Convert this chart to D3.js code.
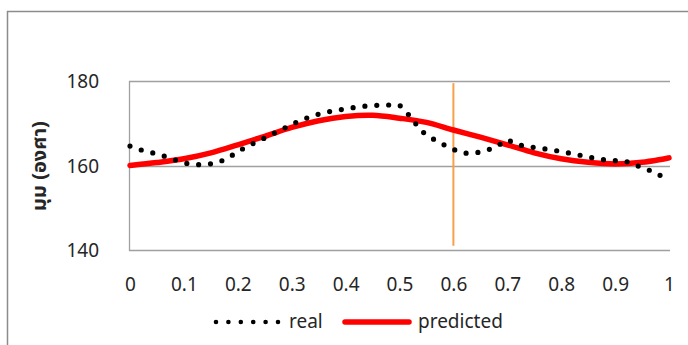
<!DOCTYPE html>
<html>
<head>
<meta charset="utf-8">
<script src="https://cdn.jsdelivr.net/npm/d3@7"></script>
<style>
  html, body { margin: 0; padding: 0; background: #fff; }
  svg { display: block; }
  text { font-family: "Noto Sans", "Noto Sans Thai", "Tahoma", "DejaVu Sans", sans-serif; fill: #262626; }
</style>
</head>
<body>
<div id="chart"></div>
<script>
// Measured joint angle (real) and model output (predicted) over normalised time
const realX = [0, 0.02, 0.04, 0.06, 0.08, 0.10, 0.12, 0.14, 0.16, 0.18, 0.20, 0.22, 0.24, 0.26, 0.28, 0.30,
  0.32, 0.34, 0.36, 0.38, 0.40, 0.42, 0.44, 0.46, 0.48, 0.50, 0.52, 0.54, 0.56, 0.58, 0.60, 0.62, 0.64,
  0.66, 0.68, 0.70, 0.72, 0.74, 0.76, 0.78, 0.80, 0.82, 0.84, 0.86, 0.88, 0.90, 0.92, 0.94, 0.96, 0.98, 1.00];
const realY = [164.6, 163.7, 163.05, 162.35, 161.5, 160.6, 160.2, 160.2, 160.6, 161.6, 163.3, 164.7, 165.85,
  167.2, 168.4, 169.75, 170.85, 171.8, 172.5, 173.0, 173.4, 173.8, 174.1, 174.25, 174.32, 174.3, 171.6,
  168.2, 166.45, 165.05, 163.8, 162.9, 162.95, 163.5, 164.5, 166.1, 164.9, 164.45, 164.1, 163.75, 163.3,
  162.8, 162.3, 161.75, 161.35, 161.14, 161.0, 160.0, 159.1, 157.8, 157.0];

const predX = [0, 0.05, 0.10, 0.15, 0.20, 0.25, 0.30, 0.35, 0.40, 0.45, 0.50, 0.55, 0.60, 0.65, 0.70,
  0.75, 0.80, 0.85, 0.90, 0.95, 1.00];
const predY = [160.0, 160.7, 161.6, 163.0, 164.9, 166.9, 169.0, 170.6, 171.6, 171.9, 171.2, 170.2, 168.4,
  166.7, 164.9, 163.0, 161.6, 160.75, 160.35, 160.75, 161.8];

// Vertical marker at t = 0.6
const markerX = [0.6, 0.6];
const markerY = [141, 179.5];

const xTicks = [0, 0.1, 0.2, 0.3, 0.4, 0.5, 0.6, 0.7, 0.8, 0.9, 1];
const yTicks = [140, 160, 180];
const yTitle = "มุม (องศา)";
const seriesNames = ["real", "predicted"];

const W = 688, H = 345;
const plot = { left: 129, right: 670, top: 81, bottom: 250 };

const svg = d3.select("#chart").append("svg").attr("width", W).attr("height", H);

// Outer chart frame (top and left edges visible)
svg.append("path")
  .attr("d", `M7.5,${H} L7.5,11.5 L${W},11.5`)
  .attr("fill", "none").attr("stroke", "#8c8c8c").attr("stroke-width", 1.5);

const x = d3.scaleLinear().domain([0, 1]).range([plot.left + 1, plot.right - 1]);
const y = d3.scaleLinear().domain([140, 180]).range([plot.bottom, plot.top]);

// Horizontal gridlines
svg.append("g").selectAll("line").data(yTicks).join("line")
  .attr("x1", plot.left).attr("x2", plot.right)
  .attr("y1", d => Math.round(y(d)) + 0.5).attr("y2", d => Math.round(y(d)) + 0.5)
  .attr("stroke", "#a0a0a0").attr("stroke-width", 1.3);

// Left axis line
svg.append("line")
  .attr("x1", plot.left + 0.5).attr("x2", plot.left + 0.5)
  .attr("y1", plot.top).attr("y2", plot.bottom + 1)
  .attr("stroke", "#a0a0a0").attr("stroke-width", 1.3);

// Y tick labels
const yAxis = d3.axisLeft(y).tickValues(yTicks).tickSize(0).tickPadding(0);
const gy = svg.append("g").attr("transform", `translate(99,0)`).call(yAxis);
gy.select(".domain").remove();
gy.selectAll("text").attr("font-size", 19).attr("fill", "#262626")
  .style("font-family", '"Noto Sans", sans-serif').attr("dy", "0.36em");

// X tick labels
const xAxis = d3.axisBottom(x).tickValues(xTicks).tickSize(0).tickPadding(0)
  .tickFormat(d => String(d));
const gx = svg.append("g").attr("transform", `translate(0,277)`).call(xAxis);
gx.select(".domain").remove();
gx.selectAll("text").attr("font-size", 19).attr("fill", "#262626")
  .style("font-family", '"Noto Sans", sans-serif').attr("dy", "0.72em");

// Y axis title
svg.append("text")
  .attr("transform", `translate(46,166) rotate(-90)`)
  .attr("text-anchor", "middle")
  .attr("font-size", 20).attr("font-weight", "bold")
  .text(yTitle);

// Marker line
svg.append("line")
  .attr("x1", x(markerX[0])).attr("x2", x(markerX[1]))
  .attr("y1", y(markerY[0])).attr("y2", y(markerY[1]))
  .attr("stroke", "#f7a04c").attr("stroke-width", 2);

// Predicted series
const predLine = d3.line().x(d => x(d[0])).y(d => y(d[1])).curve(d3.curveCatmullRom.alpha(0.5));
svg.append("path")
  .datum(predX.map((v, i) => [v, predY[i]]))
  .attr("d", predLine)
  .attr("fill", "none").attr("stroke", "#ff0000").attr("stroke-width", 5.5)
  .attr("stroke-linecap", "round").attr("stroke-linejoin", "round");

// Real series as a round-dot line
const realLine = d3.line().x(d => x(d[0])).y(d => y(d[1]));
svg.append("path")
  .datum(realX.map((v, i) => [v, realY[i]]))
  .attr("d", realLine)
  .attr("fill", "none").attr("stroke", "#000").attr("stroke-width", 5.2)
  .attr("stroke-linecap", "round").attr("stroke-dasharray", "0 11.9");

// Legend
const lg = svg.append("g");
lg.append("line")
  .attr("x1", 216).attr("x2", 279).attr("y1", 322).attr("y2", 322)
  .attr("stroke", "#000").attr("stroke-width", 4.6)
  .attr("stroke-linecap", "round").attr("stroke-dasharray", "0 12.4");
lg.append("text").attr("x", 289).attr("y", 322).attr("dy", "0.32em")
  .attr("font-size", 19).text(seriesNames[0]);
lg.append("line")
  .attr("x1", 345).attr("x2", 409).attr("y1", 322).attr("y2", 322)
  .attr("stroke", "#ff0000").attr("stroke-width", 5.5).attr("stroke-linecap", "round");
lg.append("text").attr("x", 418).attr("y", 322).attr("dy", "0.32em")
  .attr("font-size", 19).text(seriesNames[1]);
</script>
</body>
</html>
